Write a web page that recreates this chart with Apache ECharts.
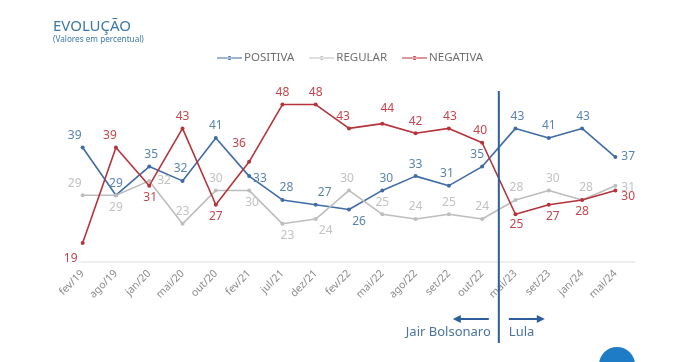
<!DOCTYPE html>
<html>
<head>
<meta charset="utf-8">
<script src="https://cdn.jsdelivr.net/npm/echarts@6/dist/echarts.min.js"></script>
<style>html,body{margin:0;padding:0;background:#fff}#c{width:680px;height:362px}</style>
</head>
<body>
<div id="c"></div>
<script>
const categories = ['fev/19','ago/19','jan/20','mai/20','out/20','fev/21','jul/21','dez/21','fev/22','mai/22','ago/22','set/22','out/22','mai/23','set/23','jan/24','mai/24'];
const positiva = [39,29,35,32,41,33,28,27,26,30,33,31,35,43,41,43,37];
const regular  = [29,29,32,23,30,30,23,24,30,25,24,25,24,28,30,28,31];
const negativa = [19,39,31,43,27,36,48,48,43,44,42,43,40,25,27,28,30];
const seriesNames = ['POSITIVA','REGULAR','NEGATIVA'];
const dividerAfterIndex = 12; // line between out/22 and mai/23

// label placement (style)
const posPos = ['top','top','top','top','top','right','top','top','bottom','top','top','top','top','top','top','top','right'];
const regPos = ['top','bottom','right','top','top','bottom','bottom','bottom','top','top','top','top','top','top','top','top','right'];
const negPos = ['bottom','top','bottom','top','bottom','top','top','top','top','top','top','top','top','bottom','bottom','bottom','right'];
const posOff = [[-8,0],[0,0],[2,0],[-2,0],[0,0],[-2,2],[4,0],[9,0],[10,0],[4,0],[0,0],[-2,0],[-5,0],[2,0],[0,0],[1,0],[0,0]];
const regOff = [[-8,0],[0,0],[2,0],[0,0],[0,0],[3,0],[5,0],[10,0],[-2,0],[0,0],[0,0],[0,0],[0,0],[1,0],[4,0],[4,0],[0,2]];
const negOff = [[-12,4],[-6,0],[1,0],[0,0],[0,0],[-10,-6],[0,0],[0,0],[-6,0],[5,-3],[0,0],[1,0],[-2,0],[1,-2],[4,0],[0,0],[0,6]];

const font = 'Noto Sans';
function mk(vals, pos, off) {
  return vals.map((v, i) => ({
    value: v,
    label: { position: pos[i], offset: off[i] }
  }));
}
function series(name, vals, pos, off, lineColor, labelColor) {
  return {
    name: name, type: 'line', data: mk(vals, pos, off),
    symbol: 'circle', symbolSize: 4,
    lineStyle: { color: lineColor, width: 1.6 },
    itemStyle: { color: lineColor },
    label: { show: true, color: labelColor, fontSize: 12, fontFamily: font, distance: 4 },
    emphasis: { disabled: true },
    animation: false
  };
}

const chart = echarts.init(document.getElementById('c'), null, { renderer: 'canvas' });
chart.setOption({
  animation: false,
  backgroundColor: '#fff',
  title: {
    text: 'EVOLUÇÃO', subtext: '(Valores em percentual)',
    left: 48, top: 14, itemGap: 2,
    textStyle: { color: '#3d78a6', fontSize: 15, fontWeight: 'normal', fontFamily: font },
    subtextStyle: { color: '#3d78a6', fontSize: 8.2, fontFamily: font }
  },
  legend: {
    data: seriesNames, top: 47, left: 212, itemWidth: 25, itemHeight: 4, itemGap: 15,
    icon: 'path://M0,4 H25 V5.2 H0 Z M10.5,4.6 A2,2 0 1 0 14.5,4.6 A2,2 0 1 0 10.5,4.6 Z M0,2.6 H0.01 V6.6 H0 Z',
    textStyle: { color: '#6f6f6f', fontSize: 11.5, fontFamily: font, padding: [0, 0, 0, -3] }
  },
  grid: { left: 66, right: 48, top: 95, bottom: 100 },
  xAxis: [{
    type: 'category', data: categories, boundaryGap: true,
    axisLine: { show: false }, axisTick: { show: false },
    axisLabel: { rotate: 45, color: '#8a8a8a', fontSize: 10.5, fontFamily: font, margin: 10, interval: 0 }
  }, {
    type: 'value', min: -0.5, max: categories.length - 0.5, show: false
  }],
  yAxis: { type: 'value', min: 15, max: 50, show: false },
  series: [
    series(seriesNames[0], positiva, posPos, posOff, '#3f6ca6', '#5a84b0'),
    series(seriesNames[1], regular, regPos, regOff, '#bdbdbd', '#c2c2c2'),
    series(seriesNames[2], negativa, negPos, negOff, '#b5333b', '#c5464c')
  ]
});

// decorations positioned from axis scales
const x0 = chart.convertToPixel({ xAxisIndex: 0 }, categories[0]);
const xN = chart.convertToPixel({ xAxisIndex: 0 }, categories[categories.length - 1]);
const yBase = chart.convertToPixel({ yAxisIndex: 0 }, 15);
const xDiv = chart.convertToPixel({ xAxisIndex: 1 }, dividerAfterIndex + 0.5);
const dark = '#2e5f9c';
chart.setOption({
  graphic: [
    { type: 'line', shape: { x1: x0 - 2, y1: yBase, x2: xN + 20, y2: yBase }, style: { stroke: '#dcdcdc', lineWidth: 1 }, z: 1 },
    { type: 'line', shape: { x1: xDiv, y1: 91, x2: xDiv, y2: 343 }, style: { stroke: dark, lineWidth: 2 }, z: 10 },
    { type: 'line', shape: { x1: xDiv - 10, y1: 319, x2: xDiv - 40, y2: 319 }, style: { stroke: dark, lineWidth: 2 } },
    { type: 'polygon', shape: { points: [[xDiv - 46, 319], [xDiv - 38, 315], [xDiv - 38, 323]] }, style: { fill: dark } },
    { type: 'line', shape: { x1: xDiv + 10, y1: 319, x2: xDiv + 40, y2: 319 }, style: { stroke: dark, lineWidth: 2 } },
    { type: 'polygon', shape: { points: [[xDiv + 46, 319], [xDiv + 38, 315], [xDiv + 38, 323]] }, style: { fill: dark } },
    { type: 'text', style: { text: 'Jair Bolsonaro', x: xDiv - 8, y: 332, textAlign: 'right', textVerticalAlign: 'middle', fill: '#4a74a0', font: '13px "Noto Sans"' } },
    { type: 'text', style: { text: 'Lula', x: xDiv + 10, y: 332, textAlign: 'left', textVerticalAlign: 'middle', fill: '#4a74a0', font: '13px "Noto Sans"' } },
    { type: 'circle', shape: { cx: 617, cy: 365, r: 18 }, style: { fill: '#1e7cc6' } }
  ]
});
</script>
</body>
</html>
